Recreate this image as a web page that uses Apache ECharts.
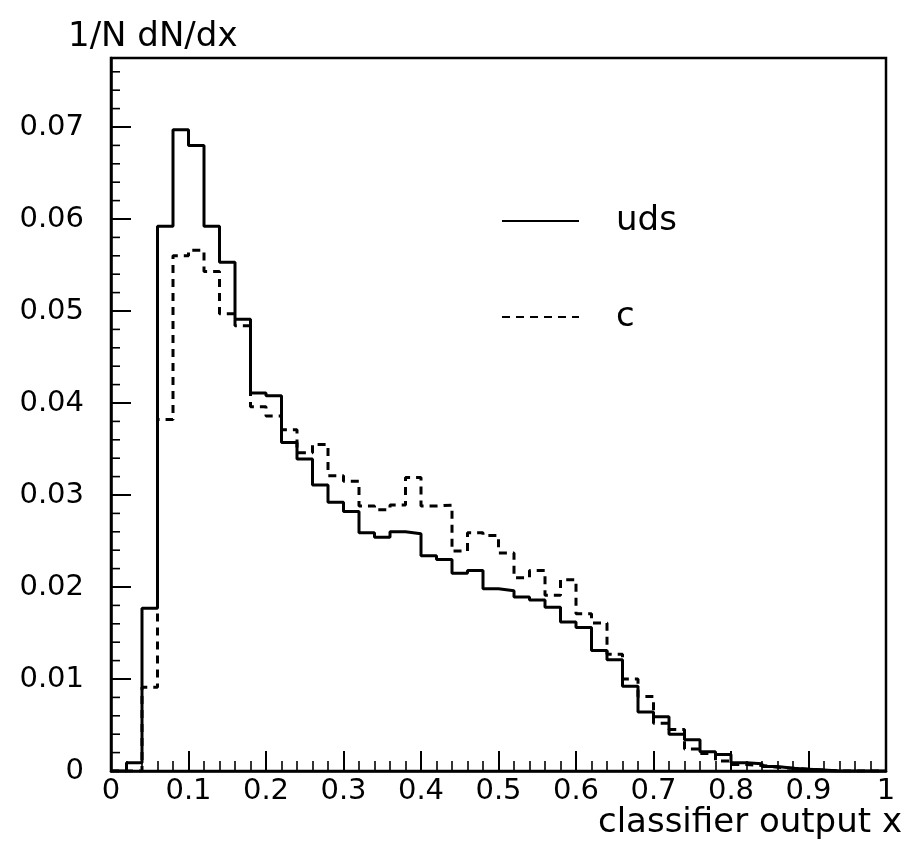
<!DOCTYPE html>
<html>
<head>
<meta charset="utf-8">
<script src="https://cdn.jsdelivr.net/npm/echarts@6/dist/echarts.min.js"></script>
<style>
html,body{margin:0;padding:0;background:#fff;}
#chart{width:923px;height:863px;}
</style>
</head>
<body>
<div id="chart"></div>
<script>
// Histogram bins: 50 bins of width 0.02 over [0, 1]
const binWidth = 0.02;
const udsValues = [
  0, 0.0009, 0.0177, 0.0592, 0.0697, 0.0680, 0.0592, 0.0553, 0.0491, 0.0411,
  0.0408, 0.0357, 0.0339, 0.0311, 0.0292, 0.0282, 0.0259, 0.0254, 0.0260, 0.0258,
  0.0234, 0.0230, 0.0215, 0.0218, 0.0198, 0.0196, 0.0189, 0.0186, 0.0178, 0.0162,
  0.0156, 0.0131, 0.0121, 0.0092, 0.0064, 0.0059, 0.0040, 0.0034, 0.0021, 0.0018,
  0.0009, 0.0008, 0.0005, 0.0003, 0.0002, 0.0001, 0, 0, 0, 0
];
const cValues = [
  0, 0, 0.0091, 0.0382, 0.0560, 0.0566, 0.0543, 0.0497, 0.0484, 0.0396,
  0.0386, 0.0371, 0.0346, 0.0355, 0.0321, 0.0315, 0.0288, 0.0284, 0.0289, 0.0319,
  0.0288, 0.0289, 0.0239, 0.0259, 0.0256, 0.0237, 0.0210, 0.0218, 0.0191, 0.0208,
  0.0171, 0.0161, 0.0127, 0.0100, 0.0081, 0.0052, 0.0045, 0.0024, 0.0019, 0.0011,
  0.0007, 0.0006, 0.0004, 0.0003, 0.0002, 0.0001, 0, 0, 0, 0
];
const seriesNames = ['uds', 'c'];
const xTitle = 'classifier output x';
const yTitle = '1/N dN/dx';
const yMajorTicks = [0, 0.01, 0.02, 0.03, 0.04, 0.05, 0.06, 0.07];
const yMinorStep = 0.002;
const yMax = 0.0775;

function toSteps(vals) {
  const pts = vals.map((v, i) => [i * binWidth, v]);
  pts.push([vals.length * binWidth, vals[vals.length - 1]]);
  return pts;
}

const FONT = 'DejaVu Sans';
const titleGraphics = [{
  type: 'text', left: 68, top: 20,
  style: {text: yTitle, fill: '#000', font: '34px "DejaVu Sans"'}
}, {
  type: 'text', right: 21, top: 806,
  style: {text: xTitle, fill: '#000', font: '34px "DejaVu Sans"'}
}];

const chart = echarts.init(document.getElementById('chart'), null, {renderer: 'canvas'});
chart.setOption({
  backgroundColor: '#fff',
  animation: false,
  grid: {
    left: 111, right: 37, top: 58, bottom: 92,
    show: true, borderColor: '#000', borderWidth: 2.5,
    backgroundColor: 'transparent',
    outerBoundsMode: 'none'
  },
  xAxis: {
    type: 'value', min: 0, max: 1, interval: 0.1,
    axisLine: {show: true, onZero: false, lineStyle: {color: '#000', width: 2.5}},
    axisTick: {show: true, inside: true, length: 20, lineStyle: {color: '#000', width: 2}},
    minorTick: {show: true, splitNumber: 5, length: 10, lineStyle: {color: '#000', width: 1.6}},
    splitLine: {show: false},
    axisLabel: {color: '#000', fontFamily: FONT, fontSize: 29, margin: 6}
  },
  yAxis: {
    type: 'value', min: 0, max: yMax, interval: 0.01, position: 'left',
    axisLine: {show: true, onZero: false, lineStyle: {color: '#000', width: 2.5}},
    axisTick: {show: false},
    minorTick: {show: false},
    splitLine: {show: false},
    axisLabel: {color: '#000', fontFamily: FONT, fontSize: 29, margin: 27, showMaxLabel: false}
  },
  legend: [{
    data: [seriesNames[0]], left: 496, top: 199, orient: 'vertical',
    itemWidth: 77, itemHeight: 14,
    itemStyle: {opacity: 0},
    textStyle: {color: '#000', fontFamily: FONT, fontSize: 34, padding: [0, 0, 0, 32]},
    selectedMode: false
  }, {
    data: [seriesNames[1]], left: 496, top: 295, orient: 'vertical',
    itemWidth: 77, itemHeight: 14,
    itemStyle: {opacity: 0},
    textStyle: {color: '#000', fontFamily: FONT, fontSize: 34, padding: [0, 0, 0, 32]},
    selectedMode: false
  }],
  graphic: titleGraphics,
  series: [{
    name: seriesNames[0], type: 'line', step: 'end',
    data: toSteps(udsValues), showSymbol: false, symbol: 'none',
    lineStyle: {color: '#000', width: 3}, itemStyle: {color: '#000'}
  }, {
    name: seriesNames[1], type: 'line', step: 'end',
    data: toSteps(cValues), showSymbol: false, symbol: 'none',
    lineStyle: {color: '#000', width: 3, type: [8, 6]}, itemStyle: {color: '#000'}
  }]
});

// Inward y-axis ticks, placed through the chart's own y scale
const xLeft = chart.convertToPixel({xAxisIndex: 0}, 0);
const tickEls = [];
function addTick(v, len, w) {
  const py = chart.convertToPixel({yAxisIndex: 0}, v);
  tickEls.push({
    type: 'line', silent: true,
    shape: {x1: xLeft, y1: py, x2: xLeft + len, y2: py},
    style: {stroke: '#000', lineWidth: w}
  });
}
for (let k = 0; k * yMinorStep < yMax; k++) {
  addTick(k * yMinorStep, 9, 1.6);
}
yMajorTicks.forEach(v => addTick(v, 20, 2));
chart.setOption({graphic: titleGraphics.concat(tickEls)});
</script>
</body>
</html>
